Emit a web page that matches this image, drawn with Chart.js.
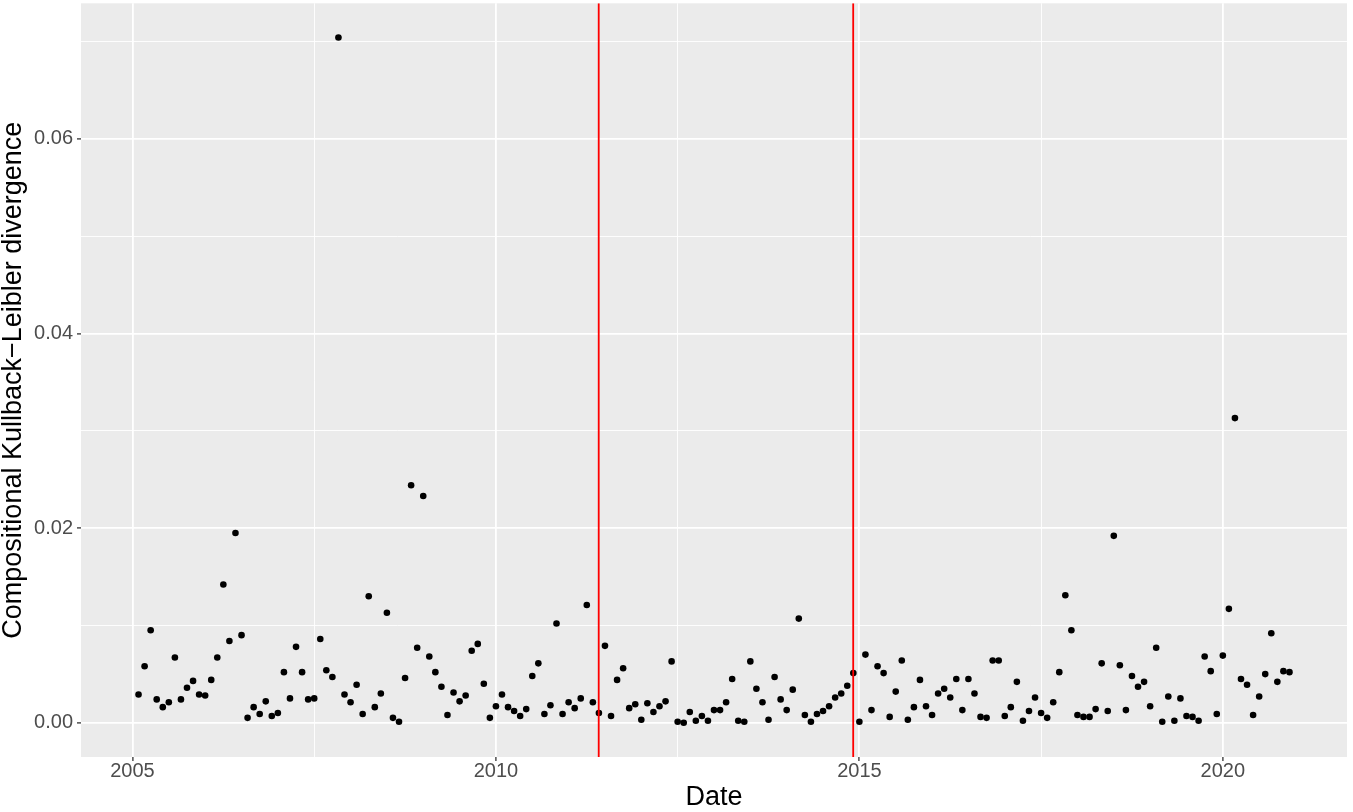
<!DOCTYPE html>
<html>
<head>
<meta charset="utf-8">
<script src="https://cdn.jsdelivr.net/npm/chart.js@4.4.1/dist/chart.umd.min.js"></script>
<style>
  html, body { margin: 0; padding: 0; background: #ffffff; }
  #wrap { width: 1353px; height: 812px; position: relative; }
</style>
</head>
<body>
<div id="wrap"><canvas id="c" width="1353" height="812"></canvas></div>
<script>
// ---- Data: monthly Compositional Kullback-Leibler divergence ----
// 2005 series starts in February; all other years run January..December.
const firstMonth2005 = 2;
const kld2005 = [0.0029, 0.0058, 0.0095, 0.0024, 0.0016, 0.0021, 0.0067, 0.0024, 0.0036, 0.0043, 0.0029];
const kld2006 = [0.0028, 0.0044, 0.0067, 0.0142, 0.0084, 0.0195, 0.0090, 0.0005, 0.0016, 0.0009, 0.0022, 0.0007];
const kld2007 = [0.0010, 0.0052, 0.0025, 0.0078, 0.0052, 0.0024, 0.0025, 0.0086, 0.0054, 0.0047, 0.0704, 0.0029];
const kld2008 = [0.0021, 0.0039, 0.0009, 0.0130, 0.0016, 0.0030, 0.0113, 0.0005, 0.0001, 0.0046, 0.0244, 0.0077];
const kld2009 = [0.0233, 0.0068, 0.0052, 0.0037, 0.0008, 0.0031, 0.0022, 0.0028, 0.0074, 0.0081, 0.0040, 0.0005];
const kld2010 = [0.0017, 0.0029, 0.0016, 0.0012, 0.0007, 0.0014, 0.0048, 0.0061, 0.0009, 0.0018, 0.0102, 0.0009];
const kld2011 = [0.0021, 0.0015, 0.0025, 0.0121, 0.0021, 0.0010, 0.0079, 0.0007, 0.0044, 0.0056, 0.0015, 0.0019];
const kld2012 = [0.0003, 0.0020, 0.0011, 0.0017, 0.0022, 0.0063, 0.0001, 0.0000, 0.0011, 0.0002, 0.0007, 0.0002];
const kld2013 = [0.0013, 0.0013, 0.0021, 0.0045, 0.0002, 0.0001, 0.0063, 0.0035, 0.0021, 0.0003, 0.0047, 0.0024];
const kld2014 = [0.0013, 0.0034, 0.0107, 0.0008, 0.0001, 0.0009, 0.0012, 0.0017, 0.0026, 0.0030, 0.0038, 0.0051];
const kld2015 = [0.0001, 0.0070, 0.0013, 0.0058, 0.0051, 0.0006, 0.0032, 0.0064, 0.0003, 0.0016, 0.0044, 0.0017];
const kld2016 = [0.0008, 0.0030, 0.0035, 0.0026, 0.0045, 0.0013, 0.0045, 0.0030, 0.0006, 0.0005, 0.0064, 0.0064];
const kld2017 = [0.0007, 0.0016, 0.0042, 0.0002, 0.0012, 0.0026, 0.0010, 0.0005, 0.0021, 0.0052, 0.0131, 0.0095];
const kld2018 = [0.0008, 0.0006, 0.0006, 0.0014, 0.0061, 0.0012, 0.0192, 0.0059, 0.0013, 0.0048, 0.0037, 0.0042];
const kld2019 = [0.0017, 0.0077, 0.0001, 0.0027, 0.0002, 0.0025, 0.0007, 0.0006, 0.0002, 0.0068, 0.0053, 0.0009];
const kld2020 = [0.0069, 0.0117, 0.0313, 0.0045, 0.0039, 0.0008, 0.0027, 0.0050, 0.0092, 0.0042, 0.0053, 0.0052];

const years = [2005, 2006, 2007, 2008, 2009, 2010, 2011, 2012, 2013, 2014, 2015, 2016, 2017, 2018, 2019, 2020];
const yearSeries = [kld2005, kld2006, kld2007, kld2008, kld2009, kld2010, kld2011, kld2012,
                    kld2013, kld2014, kld2015, kld2016, kld2017, kld2018, kld2019, kld2020];

// Vertical reference lines (dates, as decimal years): 2011-06-01 and 2014-12-01
const breakDates = [2011.414, 2014.915];

// Axis ticks
const xMajorTicks = [2005, 2010, 2015, 2020];
const xMinorTicks = [2007.5, 2012.5, 2017.5];
const yMajorTicks = [0, 0.02, 0.04, 0.06];
const yMinorTicks = [0.01, 0.03, 0.05, 0.07];

// Axis limits (ggplot 5% expansion of data range)
const xMin = 2004.2917, xMax = 2021.7083;
const yMin = -0.00352, yMax = 0.07392;

// ---- Build points (date -> decimal year) ----
const points = [];
years.forEach((yr, i) => {
  const start = (yr === 2005) ? firstMonth2005 : 1;
  yearSeries[i].forEach((v, j) => {
    const month = start + j;            // 1..12
    points.push({ x: yr + (month - 1) / 12, y: v });
  });
});

const isIn = (arr, v) => arr.some(a => Math.abs(a - v) < 1e-9);

const panelBg = {
  id: 'panelBg',
  beforeDraw(chart) {
    const { ctx, chartArea: a } = chart;
    ctx.save();
    ctx.fillStyle = '#EBEBEB';
    ctx.fillRect(a.left, a.top, a.right - a.left, a.bottom - a.top);
    ctx.restore();
  }
};

const tickFont = { family: '"Liberation Sans", Arial, sans-serif', size: 20, lineHeight: 1 };
const titleFont = { family: '"Liberation Sans", Arial, sans-serif', size: 27, lineHeight: 1 };

const datasets = [
  {
    type: 'scatter',
    data: points,
    backgroundColor: '#000000',
    borderColor: '#000000',
    borderWidth: 0,
    pointRadius: 3.3,
    pointHoverRadius: 3.3,
    order: 2
  }
];
breakDates.forEach(d => {
  datasets.push({
    type: 'line',
    data: [{ x: d, y: yMin }, { x: d, y: yMax }],
    borderColor: '#FF0000',
    borderWidth: 1.8,
    pointRadius: 0,
    fill: false,
    order: 1
  });
});

new Chart(document.getElementById('c'), {
  type: 'scatter',
  data: { datasets },
  options: {
    responsive: false,
    animation: false,
    devicePixelRatio: 1,
    layout: { padding: { left: 0, right: 6, top: 3, bottom: 0 } },
    plugins: { legend: { display: false }, tooltip: { enabled: false } },
    scales: {
      x: {
        type: 'linear',
        min: xMin,
        max: xMax,
        afterBuildTicks: s => {
          s.ticks = xMajorTicks.concat(xMinorTicks).sort((a, b) => a - b).map(v => ({ value: v }));
        },
        afterFit: s => { s.height = 55; s.paddingLeft = 0; s.paddingRight = 0; },
        border: { display: false },
        grid: {
          color: '#FFFFFF',
          lineWidth: c => (c.tick && isIn(xMajorTicks, c.tick.value)) ? 1.8 : 0.9,
          tickColor: c => (c.tick && isIn(xMajorTicks, c.tick.value)) ? '#333333' : 'rgba(0,0,0,0)',
          tickLength: 4,
          tickWidth: 1.3
        },
        ticks: {
          autoSkip: false,
          maxRotation: 0,
          padding: 0,
          color: '#4D4D4D',
          font: tickFont,
          callback: v => isIn(xMajorTicks, v) ? String(v) : ''
        },
        title: {
          display: true,
          text: 'Date',
          color: '#000000',
          font: titleFont,
          padding: { top: 0, bottom: 1 }
        }
      },
      y: {
        type: 'linear',
        min: yMin,
        max: yMax,
        afterBuildTicks: s => {
          s.ticks = yMajorTicks.concat(yMinorTicks).sort((a, b) => a - b).map(v => ({ value: v }));
        },
        afterFit: s => { s.width = 81; s.paddingTop = 0; s.paddingBottom = 0; },
        border: { display: false },
        grid: {
          color: '#FFFFFF',
          lineWidth: c => (c.tick && isIn(yMajorTicks, c.tick.value)) ? 1.8 : 0.9,
          tickColor: c => (c.tick && isIn(yMajorTicks, c.tick.value)) ? '#333333' : 'rgba(0,0,0,0)',
          tickLength: 4,
          tickWidth: 1.3
        },
        ticks: {
          autoSkip: false,
          padding: 4,
          color: '#4D4D4D',
          font: tickFont,
          callback: v => isIn(yMajorTicks, v) ? v.toFixed(2) : ''
        },
        title: {
          display: true,
          text: 'Compositional Kullback\u2212Leibler divergence',
          color: '#000000',
          font: titleFont,
          padding: { top: 0, bottom: 0 }
        }
      }
    }
  },
  plugins: [panelBg]
});
</script>
</body>
</html>
